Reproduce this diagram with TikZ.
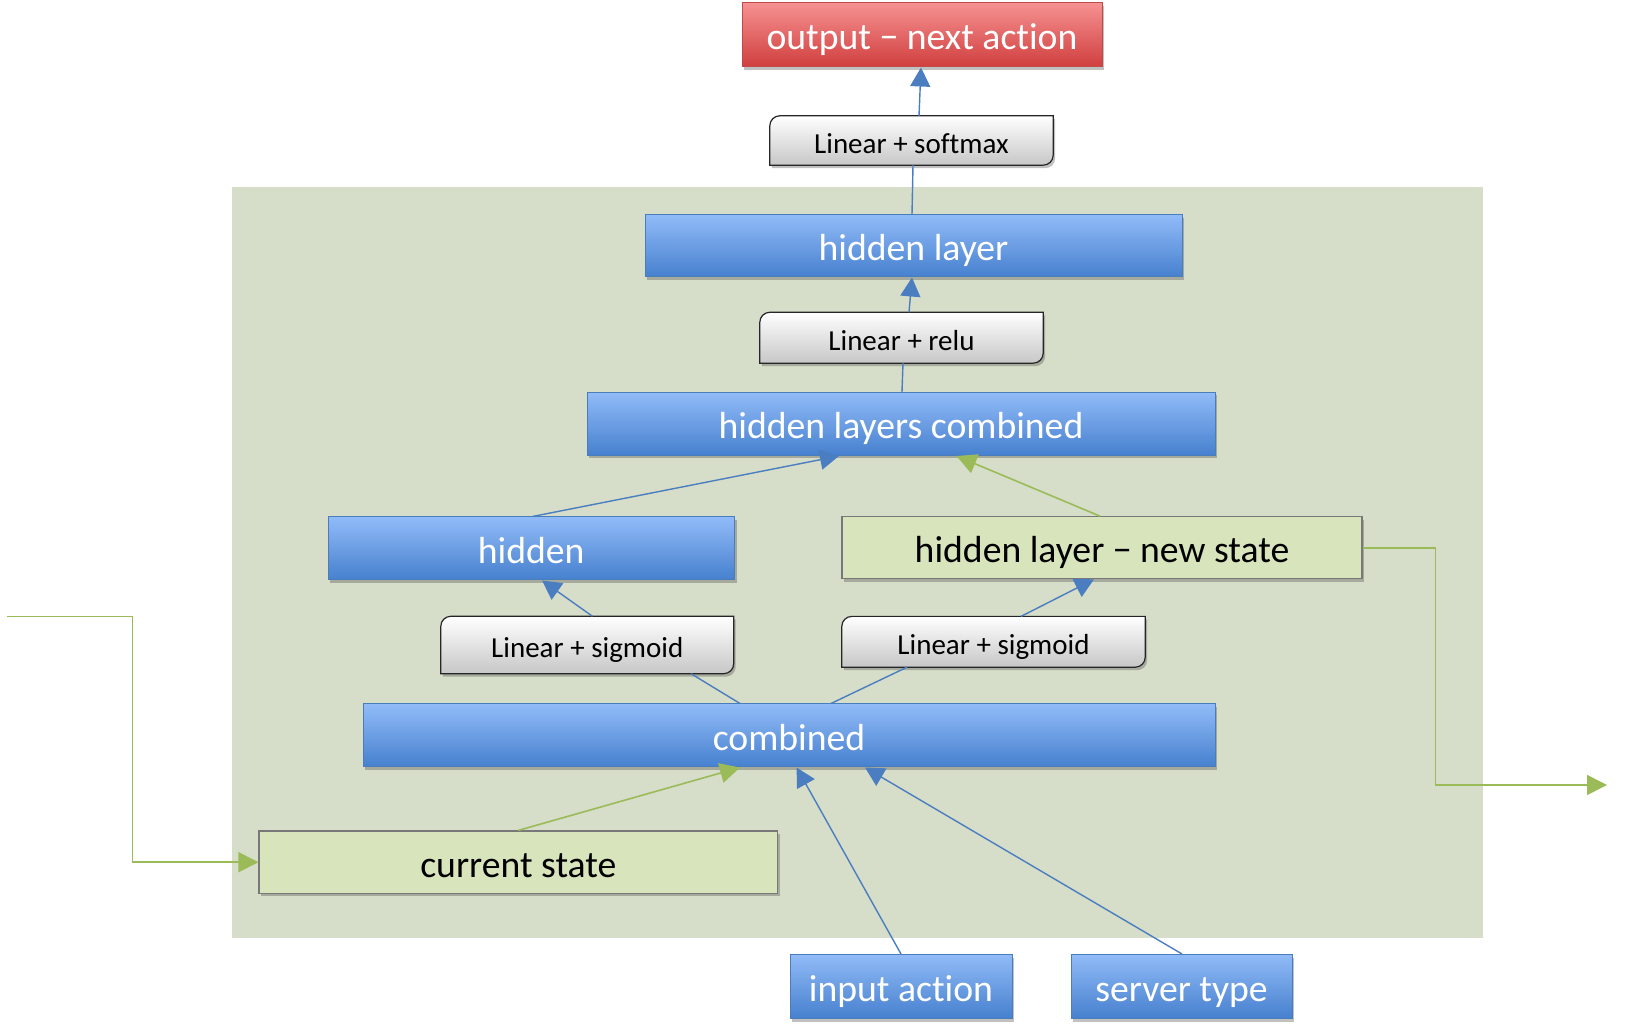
\documentclass[tikz,border=0pt]{standalone}
\usepackage{fontspec}
\setmainfont[Ligatures=NoCommon]{Carlito}
\usetikzlibrary{arrows.meta,shadows}
\definecolor{panel}{RGB}{214,221,200}
\definecolor{bluetop}{RGB}{145,187,248}
\definecolor{bluebot}{RGB}{70,128,206}
\definecolor{blueline}{RGB}{74,126,187}
\definecolor{bluearrow}{RGB}{74,126,193}
\definecolor{redtop}{RGB}{246,145,145}
\definecolor{redbot}{RGB}{208,62,62}
\definecolor{redline}{RGB}{190,75,72}
\definecolor{greenfill}{RGB}{216,228,188}
\definecolor{greenline}{RGB}{155,187,89}
\definecolor{grayline}{RGB}{120,120,120}
\pgfdeclarelayer{back}
\pgfdeclarelayer{bg}
\pgfsetlayers{back,bg,main}
\newcommand\bigtext{\fontsize{37.7}{44}\selectfont}
\newcommand\smalltext{\fontsize{29}{35}\selectfont}
\newcommand\roundiag[1]{\path[labelframe] ([xshift=10pt]#1.north west) -- (#1.north east) -- ([yshift=10pt]#1.south east) arc[start angle=0,end angle=-90,radius=10pt] -- (#1.south west) -- ([yshift=-10pt]#1.north west) arc[start angle=180,end angle=90,radius=10pt] -- cycle;}
\tikzset{
  shadowed/.style={drop shadow={opacity=0.35,shadow xshift=2pt,shadow yshift=-3pt,fill=black!70}},
  bigbox/.style={rectangle,inner sep=0pt,font=\bigtext,text height=39pt,text depth=9pt,shadowed},
  bluebox/.style={bigbox,top color=bluetop,bottom color=bluebot,draw=blueline,line width=1pt,text=white},
  redbox/.style={bigbox,top color=redtop,bottom color=redbot,draw=redline,line width=1pt,text=white},
  greenbox/.style={bigbox,fill=greenfill,draw=grayline,line width=1.2pt,text=black},
  labelbox/.style={rectangle,inner sep=0pt,text=black,font=\smalltext,text height=33pt,text depth=7pt},
  labelframe/.style={top color=white,bottom color=black!22,draw=black!85,line width=1.2pt,shadowed},
  bconn/.style={draw=bluearrow,line width=1.4pt},
  barr/.style={bconn,-{Triangle[length=19pt,width=20pt]}},
  gconn/.style={draw=greenline,line width=1.6pt},
  garr/.style={gconn,-{Triangle[length=20pt,width=20pt]}},
}
\begin{document}
\begin{tikzpicture}[x=1pt,y=1pt]
\useasboundingbox (0,0) rectangle (1650,1029);
\begin{pgfonlayer}{back}
\fill[panel] (231.5,91.4) rectangle (1482.7,842);
\end{pgfonlayer}

\node[redbox,minimum width=360,minimum height=64] (out) at (922,994) {output − next action};
\node[labelbox,minimum width=283,minimum height=49] (smax) at (911.5,888.5) {Linear + softmax};
\node[bluebox,minimum width=537,minimum height=62] (hl) at (913.5,783) {hidden layer};
\node[labelbox,minimum width=283,minimum height=50.5] (relu) at (901.5,691.25) {Linear + relu};
\node[bluebox,minimum width=628,minimum height=63] (hlc) at (901,605) {hidden layers combined};
\node[bluebox,minimum width=406.5,minimum height=63] (hid) at (531.25,480.5) {hidden};
\node[greenbox,minimum width=520,minimum height=62] (ns) at (1102,481.25) {hidden layer − new state};
\node[labelbox,minimum width=292.5,minimum height=57] (sigl) at (587.25,384) {Linear + sigmoid};
\node[labelbox,minimum width=303,minimum height=50.4] (sigr) at (993.5,387.2) {Linear + sigmoid};
\node[bluebox,minimum width=852,minimum height=63] (comb) at (789,293.5) {combined};
\node[greenbox,minimum width=518.6,minimum height=62.4] (cur) at (518.3,166.8) {current state};
\node[bluebox,minimum width=222,minimum height=64] (inp) at (901,42.5) {input action};
\node[bluebox,minimum width=221,minimum height=64] (srv) at (1181.5,42.5) {server type};

\begin{pgfonlayer}{bg}
\roundiag{smax}
\roundiag{relu}
\roundiag{sigl}
\roundiag{sigr}
\end{pgfonlayer}

\coordinate (lin) at (7,412.4);
\coordinate (rout) at (1607,244);

% connectors
\draw[barr] ([xshift=7.5pt]smax.north) -- ([xshift=-1pt]out.south);
\draw[bconn] ([xshift=-1.5pt]hl.north) -- ([xshift=1.5pt]smax.south);
\draw[barr] ([xshift=7.5pt]relu.north) -- ([xshift=-1.5pt]hl.south);
\draw[bconn] ([xshift=1pt]hlc.north) -- ([xshift=1.5pt]relu.south);
\draw[barr] ([xshift=1.25pt]hid.north) -- ([xshift=-62pt]hlc.south);
\draw[garr] ([xshift=-2pt]ns.north) -- ([xshift=55.5pt]hlc.south);
\draw[bconn] ([xshift=-49pt]comb.north) -- ([xshift=103.75pt]sigl.south);
\draw[barr] ([xshift=5.25pt]sigl.north) -- ([xshift=10.75pt]hid.south);
\draw[bconn] ([xshift=42pt]comb.north) -- ([xshift=-86.5pt]sigr.south);
\draw[barr] ([xshift=27.5pt]sigr.north) -- ([xshift=-8pt]ns.south);
\draw[garr] (cur.north) -- ([xshift=-49pt]comb.south);
\draw[barr] (inp.north) -- ([xshift=7.6pt]comb.south);
\draw[barr] ([xshift=0.5pt]srv.north) -- ([xshift=76pt]comb.south);
\draw[garr] (lin) -- ++(125.6,0) |- (cur.west);
\draw[garr] (ns.east) -- ++(73,0) |- (rout);
\end{tikzpicture}
\end{document}
